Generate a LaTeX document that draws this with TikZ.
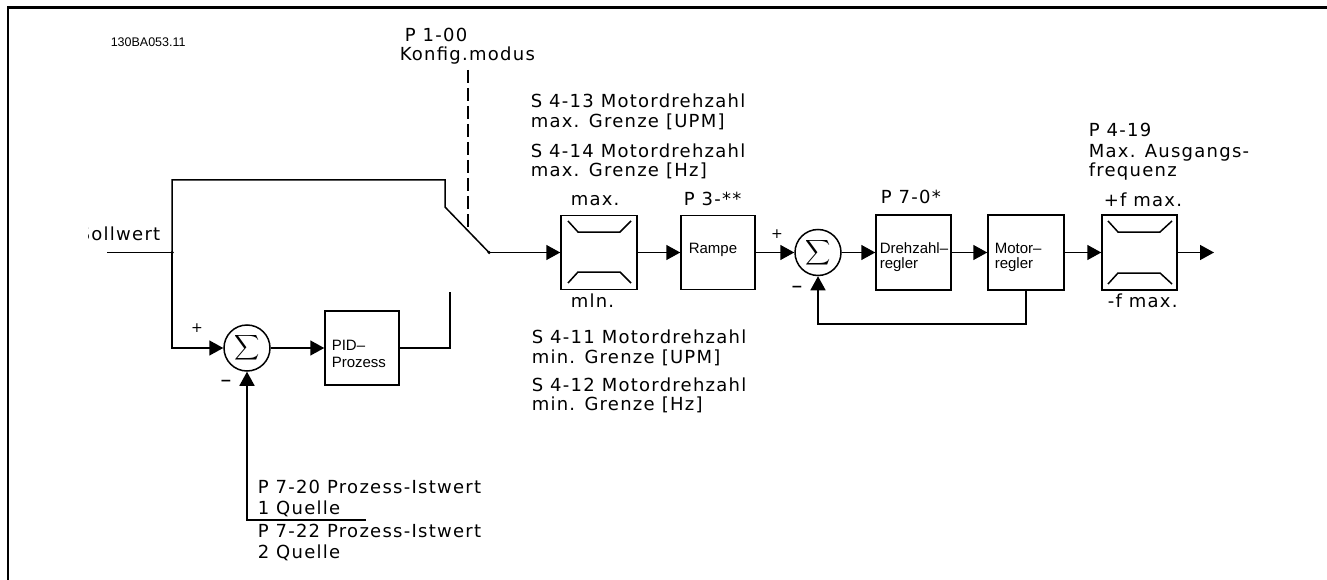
\documentclass[tikz,border=0pt]{standalone}
\usepackage{fontspec}
\setmainfont{DejaVu Sans}
\newfontfamily\labfont[LetterSpace=7]{DejaVu Sans}
\newfontfamily\boxfont{Liberation Sans}
\usetikzlibrary{arrows.meta}
\begin{document}
\begin{tikzpicture}[x=1pt,y=-1pt,
  line width=1.5pt,
  arr/.style={-{Triangle[length=14pt,width=15pt]}},
  blk/.style={draw, rectangle, inner sep=0pt},
  sumn/.style={draw, circle, inner sep=0pt, minimum size=46pt},
  sig/.style={scale=1.75, inner sep=0pt},
  lab/.style={font=\labfont\fontsize{18}{20}\selectfont, inner sep=0pt, anchor=base west},
  btxt/.style={font=\boxfont\fontsize{15}{16}\selectfont, inner sep=0pt, anchor=base west},
  sgn/.style={font=\fontsize{14}{14}\selectfont, inner sep=0pt},
  jdot/.style={circle, fill, inner sep=0pt, minimum size=3.5pt}
]
\useasboundingbox (0,0) rectangle (1327,580);
% frame
\draw[line width=2.5pt] (1327,7.3) -- (7.8,7.3) -- (7.8,580);

% coordinates
\coordinate (sin) at (107,252.5);
\coordinate (tl) at (172,180);
\coordinate (tr) at (445,180);
\coordinate (sk) at (445,207);
\coordinate (swB) at (450,292);
\coordinate (dTop) at (468,70);
\coordinate (dBot) at (468,230.5);
\coordinate (fbA) at (366,520);
\coordinate (fb2) at (818,324);
\coordinate (out) at (1214,252.5);
\node[jdot] (jA) at (172,252.5) {};
\node[jdot] (sw) at (489,252.5) {};

% blocks
\node[sumn] (s1) at (247,348) {};
\node[sig] (g1) at (247,348) {$\displaystyle\sum$};
\node[blk, minimum width=74pt, minimum height=74pt] (pid) at (362,348) {};
\node[blk, minimum width=76pt, minimum height=74pt] (lim1) at (599,252.5) {};
\node[blk, minimum width=74pt, minimum height=74pt] (ramp) at (718,252.5) {};
\node[sumn] (s2) at (818,252.5) {};
\node[sig] (g2) at (818,252.5) {$\displaystyle\sum$};
\node[blk, minimum width=75pt, minimum height=75pt] (dz) at (913.5,252.5) {};
\node[blk, minimum width=76pt, minimum height=75pt] (mot) at (1026,252.5) {};
\node[blk, minimum width=75pt, minimum height=75pt] (lim2) at (1139.5,252.5) {};

% limiter symbols
\draw (568,221) -- (578,232) -- (620,232) -- (631,221);
\draw (568,283) -- (578,272) -- (620,272) -- (631,283);
\draw (1108,221) -- (1118,232) -- (1160,232) -- (1172,221);
\draw (1108,284) -- (1118,273) -- (1160,273) -- (1172,284);

% connectors
\draw (sin) -- (jA.center);
\draw[arr] (jA.center) |- (s1);
\draw (jA.center) -- (tl) -- (tr) -- (sk) -- (sw.center);
\draw[dashed, dash pattern=on 13pt off 5pt] (dTop) -- (dBot);
\draw[arr] (s1) -- (pid);
\draw (pid.east) -| (swB);
\draw[arr] (fbA) -| (s1);
\draw[arr] (sw.center) -- (lim1);
\draw[arr] (lim1) -- (ramp);
\draw[arr] (ramp) -- (s2);
\draw[arr] (s2) -- (dz);
\draw[arr] (dz) -- (mot);
\draw[arr] (mot) -- (lim2);
\draw[arr] (lim2) -- (out);
\draw[arr] (mot.south) |- (fb2) -- (s2.south);

% signs
\node[sgn] (p1) at (197,328) {+};
\node[sgn, font=\fontsize{14}{14}\selectfont\bfseries] (m1) at (226,383) {−};
\node[sgn] (p2) at (777,234) {+};
\node[sgn, font=\fontsize{14}{14}\selectfont\bfseries] (m2) at (797,289) {−};

% box texts
\node[btxt] (tpid1) at (331,350) {PID–};
\node[btxt] (tpid2) at (331,367) {Prozess};
\node[btxt] (tramp) at (688,253) {Rampe};
\node[btxt] (tdz1) at (879,253) {Drehzahl–};
\node[btxt] (tdz2) at (879,268) {regler};
\node[btxt] (tmot1) at (994,253) {Motor–};
\node[btxt] (tmot2) at (994,268) {regler};

% labels
\node[font=\boxfont\fontsize{12.5}{14}\selectfont, inner sep=0pt, anchor=base west] (code) at (110,47) {130BA053.11};
\begin{scope}
\clip (88,200) rectangle (170,260);
\node[lab, anchor=base east] (soll) at (161,240) {Sollwert};
\end{scope}
\node[lab] (k1) at (404,42) {P 1-00};
\node[lab] (k2) at (399,61) {Konfig.modus};
\node[lab] (a1) at (530,108) {S 4-13 Motordrehzahl};
\node[lab] (a2) at (530,128) {max. Grenze [UPM]};
\node[lab] (a3) at (530,158) {S 4-14 Motordrehzahl};
\node[lab] (a4) at (530,177) {max. Grenze [Hz]};
\node[lab] (mx) at (570,205) {max.};
\node[lab] (mn) at (570,307) {mln.};
\node[lab] (p3) at (683,206) {P 3-**};
\node[lab] (p7) at (880,204) {P 7-0*};
\node[lab] (fp) at (1103,207) {+f max.};
\node[lab] (fm) at (1107,307) {-f max.};
\node[lab] (q1) at (1088,137) {P 4-19};
\node[lab] (q2) at (1088,158) {Max. Ausgangs-};
\node[lab] (q3) at (1088,177) {frequenz};
\node[lab] (b1) at (531,343) {S 4-11 Motordrehzahl};
\node[lab] (b2) at (531,363) {min. Grenze [UPM]};
\node[lab] (b3) at (531,391) {S 4-12 Motordrehzahl};
\node[lab] (b4) at (531,410) {min. Grenze [Hz]};
\node[lab] (r1) at (257,493) {P 7-20 Prozess-Istwert};
\node[lab] (r2) at (257,514) {1 Quelle};
\node[lab] (r3) at (257,537) {P 7-22 Prozess-Istwert};
\node[lab] (r4) at (257,558) {2 Quelle};
\end{tikzpicture}
\end{document}
